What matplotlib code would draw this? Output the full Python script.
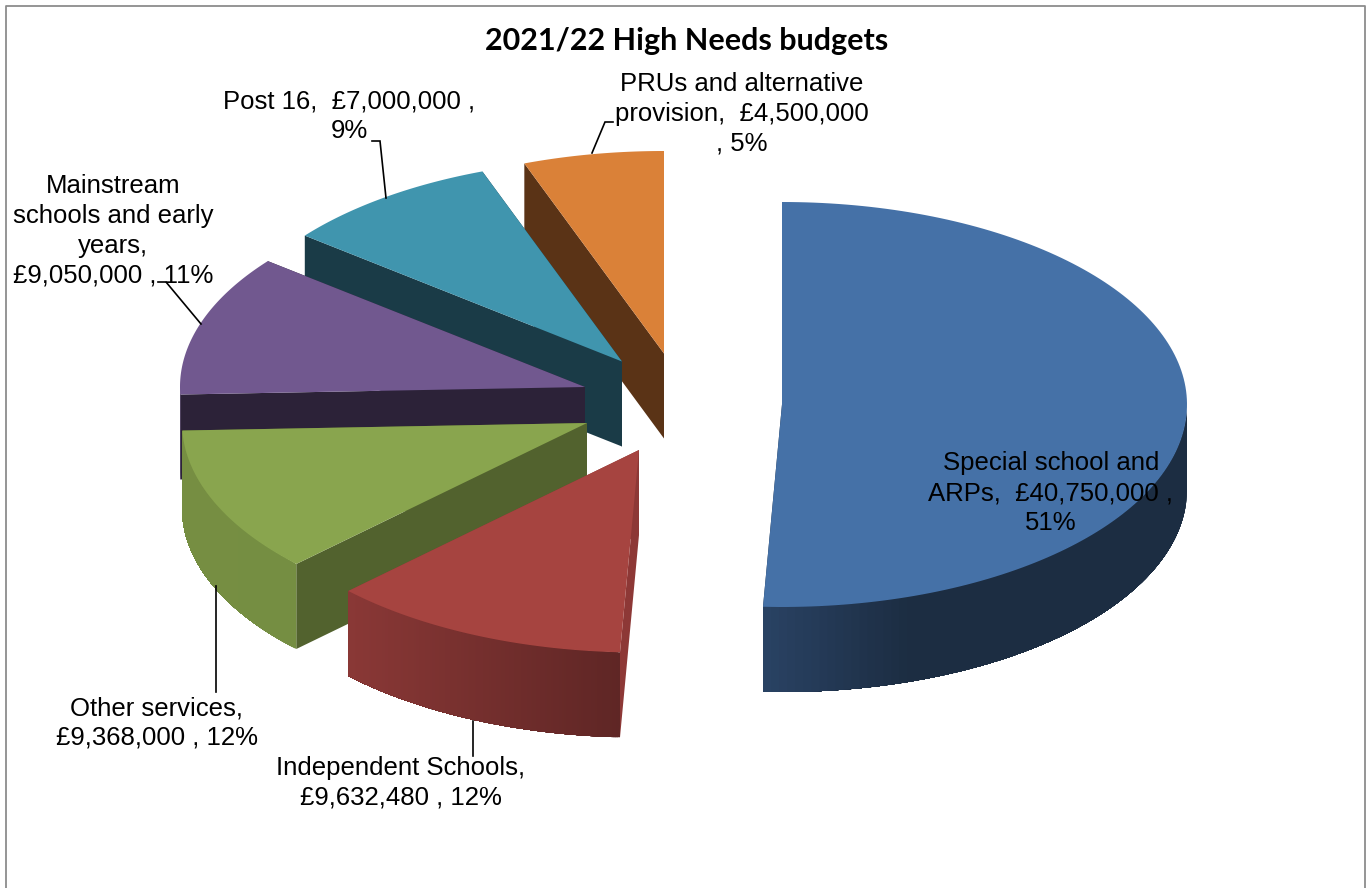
import numpy as np
from matplotlib import pyplot as plt
from matplotlib.colors import to_rgb

names = ['Special school and ARPs', 'Independent Schools', 'Other services',
	'Mainstream schools and early years', 'Post 16', 'PRUs and alternative provision']
budgets = [40750000, 9632480, 9368000, 9050000, 7000000, 4500000]
labels = ['Special school and\nARPs,  £40,750,000 ,\n51%',
	'Independent Schools,\n£9,632,480 , 12%',
	'Other services,\n£9,368,000 , 12%',
	'Mainstream\nschools and early\nyears,\n£9,050,000 , 11%',
	'Post 16,  £7,000,000 ,\n9%',
	'PRUs and alternative\nprovision,  £4,500,000\n, 5%']
title = '2021/22 High Needs budgets'

# pie geometry in pixels
RX = 405
RY = 202.5
DEPTH = 85
# apex of each exploded slice
apex = [(782, 404.5), (639, 450), (587, 423), (585, 387), (622, 361.5), (664, 353.5)]
top_colors = ['#4571a7', '#a64440', '#89a54e', '#71588f', '#4095ae', '#da8138']
cut_colors = ['#1c2d42', '#8d3836', '#52622e', '#2c2238', '#1a3b47', '#5a3316']
rim_left = ['#2a4365', '#8a3836', '#768e42', '#4a3a60', '#1a3b47', '#5a3316']
rim_right = ['#1c2d42', '#5f2625', '#758e42', '#4a3a60', '#1a3b47', '#5a3316']
rim_ramp = [0.35, 1.0, 1.0, 1.0, 1.0, 1.0]
label_pos = [(1051, 493), (401, 783), (157, 723), (113, 231), (349, 116), (742, 114)]
draw_order = [5, 4, 3, 2, 0, 1]

leaders = [
	([473, 473], [721, 756]),
	([216, 216], [586, 692]),
	([201, 166, 158], [324, 282, 282]),
	([386, 380, 372], [198, 141, 141]),
	([592, 605, 613], [153, 122, 122]),
]


def edge_point(c, theta):
	return c[0] + RX * np.sin(theta), c[1] - RY * np.cos(theta)


def draw_slice(ax, i, start, stop, z):
	c = apex[i]
	t = np.linspace(start, stop, 160)
	x, y = edge_point(c, t)

	# flat cut faces first, the rim and the top go over them
	for th in (start, stop):
		ex, ey = edge_point(c, th)
		ax.fill([c[0], ex, ex, c[0]], [c[1], ey, ey + DEPTH, c[1] + DEPTH],
			color=cut_colors[i], lw=0, zorder=z)

	# outer rim, only the part turned to the viewer
	# each strip runs on to the far end so no seams show between them
	front = np.cos(t) <= 0
	if front.sum() > 1:
		fx = x[front]
		fy = y[front]
		left = np.array(to_rgb(rim_left[i]))
		right = np.array(to_rgb(rim_right[i]))
		span = max(fx.max() - fx.min(), 1)
		for k in range(len(fx) - 1):
			f = min((fx[k] - fx.min()) / span / rim_ramp[i], 1)
			col = left + (right - left) * f
			ax.fill(np.r_[fx[k:], fx[k:][::-1]], np.r_[fy[k:], fy[k:][::-1] + DEPTH],
				color=col, lw=0, zorder=z + 1)

	ax.fill(np.r_[c[0], x], np.r_[c[1], y], color=top_colors[i], lw=0, zorder=z + 2)


def main():
	fig = plt.figure(figsize=(13.67, 8.88), dpi=100)
	ax = fig.add_axes([0, 0, 1, 1])
	ax.set_xlim(0, 1367)
	ax.set_ylim(888, 0)
	ax.axis('off')

	# chart area border, it runs off the bottom
	ax.plot([6, 6, 1365, 1365], [888, 6, 6, 888], color='#8c8c8c', lw=1.3, zorder=1)

	edges = np.r_[0, np.cumsum(budgets)] / sum(budgets) * 2 * np.pi
	for n, i in enumerate(draw_order):
		draw_slice(ax, i, edges[i], edges[i + 1], 10 + n * 3)

	for lx, ly in leaders:
		ax.plot(lx, ly, color='black', lw=1.2, zorder=40, solid_joinstyle='miter')

	for txt, (tx, ty) in zip(labels, label_pos):
		ax.text(tx, ty, txt, ha='center', va='center', ma='center', fontsize=18.5,
			family='Liberation Sans', color='black', linespacing=1.31, zorder=50)

	ax.text(687, 41, title, ha='center', va='center', fontsize=22, fontweight='bold',
		family='Lato', color='black', zorder=50)

	fig.savefig('out.png', dpi=100)


if __name__ == "__main__":
	main()
